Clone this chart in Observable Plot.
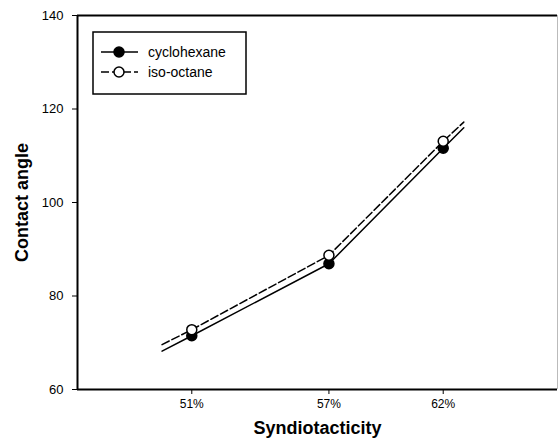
<!DOCTYPE html>
<html>
<head>
<meta charset="utf-8">
<script src="https://cdn.jsdelivr.net/npm/d3@7"></script>
<script src="https://cdn.jsdelivr.net/npm/@observablehq/plot@0.6"></script>
<style>
  html, body { margin: 0; padding: 0; background: #fff; }
  #chart svg { display: block; }
</style>
</head>
<body>
<div id="chart"></div>
<script>
// Measured data (syndiotacticity %, contact angle)
const syndiotacticity = [51, 57, 62];
const tickLabels = ["51%", "57%", "62%"];
const cyclohexane = [71.5, 86.9, 111.6];
const isoOctane = [72.8, 88.7, 113.1];
// fitted lines drawn through points and extended slightly beyond them
const lineX = [49.7, 51, 57, 62, 62.9];
const cyclohexaneLine = [68.2, 71.5, 86.9, 111.6, 116.0];
const isoOctaneLine = [69.6, 72.8, 88.7, 113.1, 117.2];
const yTicks = [60, 80, 100, 120, 140];
const seriesNames = ["cyclohexane", "iso-octane"];

const pts = (ys) => syndiotacticity.map((x, i) => ({x, y: ys[i]}));
const lns = (ys) => lineX.map((x, i) => ({x, y: ys[i]}));

const chart = Plot.plot({
  width: 558,
  height: 442,
  marginLeft: 77,
  marginTop: 15,
  marginRight: 1,
  marginBottom: 53,
  style: {fontFamily: "'Liberation Sans', Arial, sans-serif", fontSize: "11px", color: "#000", background: "#fff"},
  x: {domain: [46, 67]},
  y: {domain: [60, 140]},
  marks: [
    Plot.ruleX([67], {stroke: "#bbb", strokeWidth: 1}),
    Plot.ruleY([140], {stroke: "#000", strokeWidth: 2}),
    Plot.ruleY([60], {stroke: "#000", strokeWidth: 2}),
    Plot.ruleX([46], {stroke: "#000", strokeWidth: 2}),
    Plot.axisX({ticks: syndiotacticity, tickFormat: (d) => tickLabels[syndiotacticity.indexOf(d)], tickSize: 5, tickPadding: 5, label: "Syndiotacticity", labelAnchor: "center", labelArrow: "none", labelOffset: 44, fontSize: 12}),
    Plot.axisY({ticks: yTicks, tickSize: 5, tickPadding: 9, label: "Contact angle", labelAnchor: "center", labelArrow: "none", labelOffset: 62, fontSize: 13}),
    Plot.line(lns(cyclohexaneLine), {x: "x", y: "y", stroke: "#000", strokeWidth: 1.5}),
    Plot.line(lns(isoOctaneLine), {x: "x", y: "y", stroke: "#000", strokeWidth: 1.5, strokeDasharray: "8,3"}),
    Plot.dot(pts(cyclohexane), {x: "x", y: "y", r: 5, fill: "#000", stroke: "#000"}),
    Plot.dot(pts(isoOctane), {x: "x", y: "y", r: 5, fill: "#fff", stroke: "#000", strokeWidth: 1.5})
  ]
});

const svg = d3.select(chart);
svg.selectAll('g[aria-label="x-axis label"] text, g[aria-label="y-axis label"] text')
  .style("font-weight", "bold").style("font-size", "18px");

// Legend box
const lg = svg.append("g").attr("aria-label", "legend").attr("text-anchor", "start");
lg.append("rect").attr("x", 93).attr("y", 32).attr("width", 153).attr("height", 62)
  .attr("fill", "#fff").attr("stroke", "#000").attr("stroke-width", 1.5);
seriesNames.forEach((name, i) => {
  const cy = 52 + i * 20;
  lg.append("line").attr("x1", 101).attr("x2", 138).attr("y1", cy).attr("y2", cy)
    .attr("stroke", "#000").attr("stroke-width", 1.5)
    .attr("stroke-dasharray", i === 1 ? "8,3" : null);
  lg.append("circle").attr("cx", 119).attr("cy", cy).attr("r", 5)
    .attr("fill", i === 0 ? "#000" : "#fff").attr("stroke", "#000").attr("stroke-width", 1.5);
  lg.append("text").attr("x", 148).attr("y", cy).attr("dy", "0.35em")
    .attr("text-anchor", "start")
    .attr("font-size", "14px").attr("fill", "#000").text(name);
});

document.getElementById("chart").appendChild(chart);
</script>
</body>
</html>
